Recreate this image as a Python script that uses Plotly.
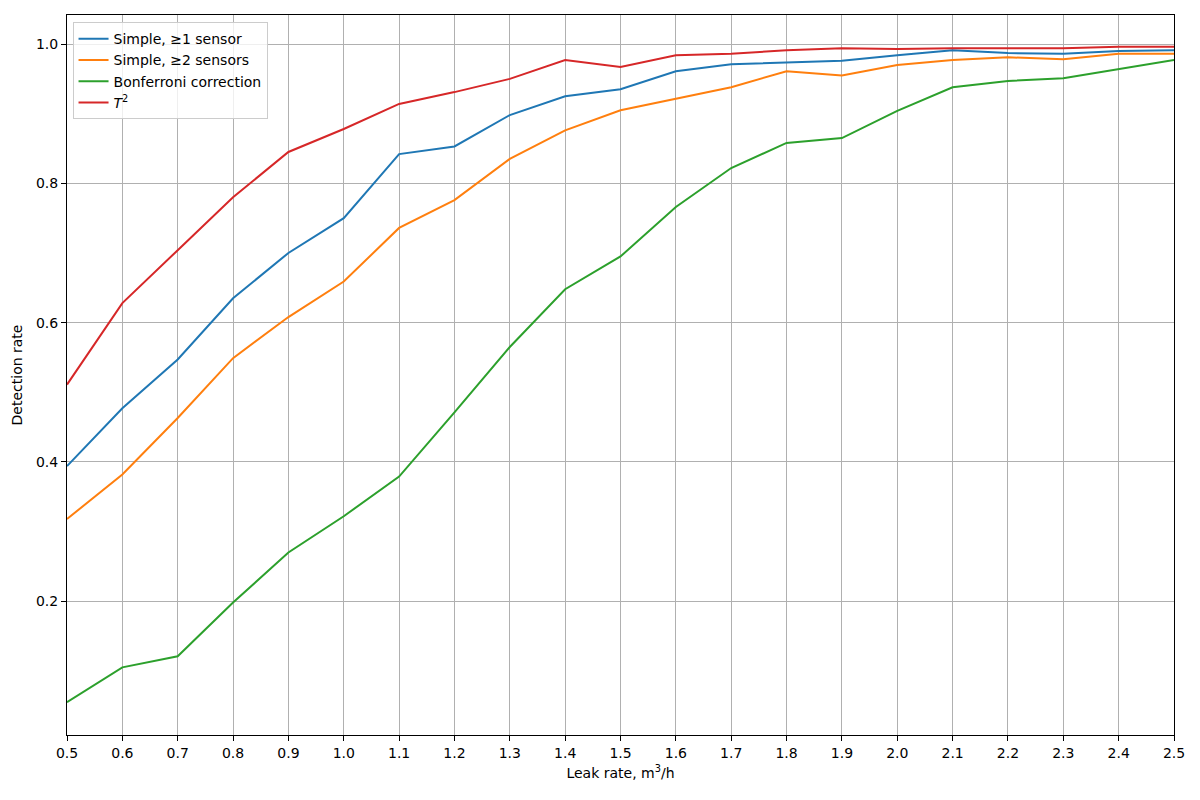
import plotly.graph_objects as go

leak_rate = [0.5, 0.6, 0.7, 0.8, 0.9, 1.0, 1.1, 1.2, 1.3, 1.4, 1.5,
             1.6, 1.7, 1.8, 1.9, 2.0, 2.1, 2.2, 2.3, 2.4, 2.5]

simple_1 = [0.394, 0.477, 0.547, 0.635, 0.700, 0.750, 0.842, 0.853, 0.898, 0.925, 0.935,
            0.961, 0.971, 0.974, 0.976, 0.984, 0.991, 0.987, 0.986, 0.990, 0.991]
simple_2 = [0.318, 0.382, 0.463, 0.549, 0.608, 0.659, 0.736, 0.776, 0.835, 0.876, 0.905,
            0.922, 0.938, 0.961, 0.955, 0.970, 0.977, 0.981, 0.978, 0.986, 0.986]
bonferroni = [0.055, 0.105, 0.121, 0.198, 0.270, 0.322, 0.379, 0.471, 0.565, 0.648, 0.695,
              0.766, 0.822, 0.858, 0.865, 0.904, 0.938, 0.947, 0.951, 0.964, 0.977]
t2 = [0.511, 0.628, 0.704, 0.780, 0.845, 0.878, 0.914, 0.931, 0.950, 0.977, 0.967,
      0.984, 0.986, 0.991, 0.994, 0.993, 0.994, 0.994, 0.994, 0.996, 0.996]

series = [
    ("Simple, ≥1 sensor", simple_1, "#1f77b4"),
    ("Simple, ≥2 sensors", simple_2, "#ff7f0e"),
    ("Bonferroni correction", bonferroni, "#2ca02c"),
    ("<i>T</i><sup>2</sup>", t2, "#d62728"),
]

x_ticks = [round(0.5 + 0.1 * i, 1) for i in range(21)]
y_ticks = [0.2, 0.4, 0.6, 0.8, 1.0]

fig = go.Figure()
for name, values, color in series:
    fig.add_trace(go.Scatter(x=leak_rate, y=values, mode="lines", name=name,
                             line=dict(color=color, width=2)))

axis_style = dict(showline=True, linecolor="black", linewidth=1, mirror=True,
                  ticks="outside", ticklen=5, tickcolor="black",
                  showgrid=True, gridcolor="#b0b0b0", gridwidth=1, zeroline=False,
                  tickfont=dict(size=14, color="black"))

fig.update_xaxes(range=[0.5, 2.5], tickvals=x_ticks, ticktext=[f"{t:.1f}" for t in x_ticks],
                 title=dict(text="Leak rate, m<sup>3</sup>/h", font=dict(size=14), standoff=8),
                 **axis_style)
fig.update_yaxes(range=[0.0079, 1.0417], tickvals=y_ticks, ticktext=[f"{t:.1f}" for t in y_ticks],
                 title=dict(text="Detection rate", font=dict(size=14), standoff=10),
                 **axis_style)

# page body has an 8px margin, so the figure is shrunk and margins shifted
fig.update_layout(
    width=1192, height=792,
    template="plotly_white",
    font=dict(family="DejaVu Sans", size=14, color="black"),
    plot_bgcolor="white", paper_bgcolor="white",
    margin=dict(l=59, r=26, t=7, b=65),
    legend=dict(x=0.005, y=0.99, xanchor="left", yanchor="top",
                bgcolor="rgba(255,255,255,0.8)", bordercolor="#cccccc", borderwidth=1,
                font=dict(size=14), tracegroupgap=0, itemwidth=30),
    showlegend=True,
)

fig.write_html("out.html")
